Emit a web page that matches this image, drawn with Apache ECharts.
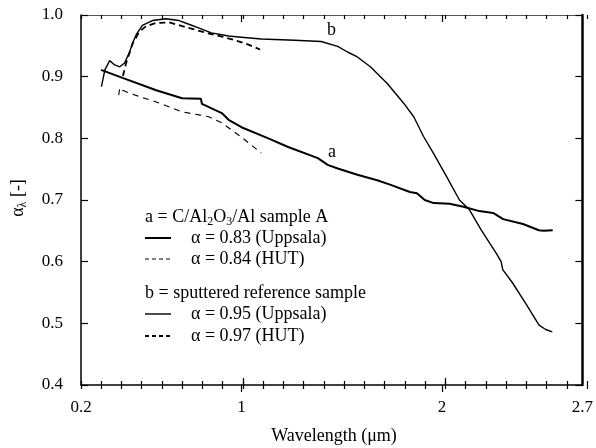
<!DOCTYPE html>
<html>
<head>
<meta charset="utf-8">
<script src="https://cdn.jsdelivr.net/npm/echarts@6/dist/echarts.min.js"></script>
<style>html,body{margin:0;padding:0;background:#fff}#c{width:596px;height:448px}</style>
</head>
<body>
<div id="c"></div>
<script>
// ---- data (wavelength in µm, absorptance) ----
var aUppsala = [[0.30,0.911],[0.407,0.898],[0.575,0.878],[0.704,0.865],[0.798,0.864],[0.803,0.856],[0.902,0.841],[0.936,0.830],[1.0,0.818],[1.134,0.800],[1.233,0.786],[1.381,0.768],[1.430,0.757],[1.480,0.751],[1.578,0.741],[1.677,0.732],[1.741,0.725],[1.840,0.713],[1.875,0.711],[1.914,0.700],[1.959,0.695],[2.038,0.694],[2.107,0.689],[2.186,0.682],[2.255,0.679],[2.305,0.669],[2.404,0.661],[2.483,0.651],[2.507,0.650],[2.552,0.651]];
var aHUT = [[0.388,0.870],[0.393,0.882],[0.408,0.878],[0.442,0.873],[0.575,0.859],[0.704,0.843],[0.788,0.838],[0.837,0.835],[0.902,0.825],[1.0,0.802],[1.099,0.776]];
var bUppsala = [[0.302,0.884],[0.319,0.911],[0.343,0.926],[0.368,0.919],[0.393,0.916],[0.417,0.922],[0.442,0.940],[0.458,0.955],[0.475,0.968],[0.506,0.983],[0.556,0.991],[0.623,0.994],[0.689,0.991],[0.738,0.985],[0.796,0.978],[0.80,0.975],[0.85,0.971],[0.902,0.968],[0.936,0.966],[1.0,0.964],[1.099,0.961],[1.266,0.959],[1.397,0.957],[1.48,0.949],[1.529,0.940],[1.578,0.932],[1.643,0.916],[1.727,0.889],[1.809,0.857],[1.859,0.835],[1.908,0.803],[1.957,0.776],[2.023,0.738],[2.087,0.700],[2.137,0.684],[2.196,0.651],[2.270,0.614],[2.295,0.600],[2.303,0.587],[2.353,0.565],[2.418,0.532],[2.484,0.497],[2.517,0.490],[2.550,0.486]];
var bHUT = [[0.409,0.901],[0.425,0.922],[0.458,0.954],[0.491,0.973],[0.525,0.982],[0.574,0.987],[0.640,0.988],[0.705,0.982],[0.771,0.976],[0.837,0.970],[0.903,0.965],[0.969,0.959],[1.035,0.952],[1.093,0.944]];
var xTickLabels = [0.2, 1, 2, 2.7];
var xMajorTicks = [1, 2];
var xMin = 0.2, xMax = 2.7;
var yMin = 0.4, yMax = 1.0, yStep = 0.1;

var FONT = '"Liberation Serif", "Times New Roman", serif';
var chart = echarts.init(document.getElementById('c'), null, {renderer: 'canvas'});
var G = {left: 81, right: 9, top: 15, bottom: 63};
function grid() { return {left: G.left, right: G.right, top: G.top, bottom: G.bottom, containLabel: false}; }
function hiddenX(gi, pos, ticks) {
  return {type: 'value', gridIndex: gi, position: pos, min: xMin, max: xMax, interval: 0.1,
    axisLine: {show: false}, axisLabel: {show: false}, splitLine: {show: false},
    axisTick: ticks};
}
function hiddenY(gi) {
  return {type: 'value', gridIndex: gi, min: yMin, max: yMax, interval: yStep, show: false};
}
var tickStyle = {color: '#000', width: 1.2};
var option = {
  animation: false,
  backgroundColor: '#fff',
  grid: [grid(), grid(), grid(), grid()],
  xAxis: [
    {type: 'value', gridIndex: 0, position: 'bottom', min: xMin, max: xMax,
     axisLine: {show: true, lineStyle: {color: '#000', width: 1.5}},
     axisTick: {show: true, inside: false, length: 7, customValues: xMajorTicks, lineStyle: tickStyle},
     axisLabel: {show: true, customValues: xTickLabels, margin: 14, fontFamily: FONT, fontSize: 17, color: '#000',
       formatter: function (v) { return String(v); }},
     splitLine: {show: false}},
    {type: 'value', gridIndex: 0, position: 'top', min: xMin, max: xMax,
     axisLine: {show: true, lineStyle: {color: '#555', width: 1}},
     axisTick: {show: true, inside: true, length: 7, customValues: xMajorTicks, lineStyle: tickStyle},
     axisLabel: {show: false}, splitLine: {show: false}},
    hiddenX(1, 'bottom', {show: true, inside: true, length: 7, customValues: xMajorTicks, lineStyle: tickStyle}),
    hiddenX(1, 'top', {show: true, inside: true, length: 4, lineStyle: tickStyle}),
    hiddenX(2, 'bottom', {show: true, inside: false, length: 4, lineStyle: tickStyle}),
    hiddenX(3, 'bottom', {show: true, inside: true, length: 4, lineStyle: tickStyle})
  ],
  yAxis: [
    {type: 'value', gridIndex: 0, position: 'left', min: yMin, max: yMax, interval: yStep,
     axisLine: {show: true, lineStyle: {color: '#000', width: 1.5}},
     axisTick: {show: true, inside: true, length: 7, lineStyle: tickStyle},
     axisLabel: {show: true, margin: 18, fontFamily: FONT, fontSize: 17, color: '#000',
       formatter: function (v) { return v.toFixed(1); }},
     splitLine: {show: false}},
    {type: 'value', gridIndex: 0, position: 'right', min: yMin, max: yMax, interval: yStep,
     axisLine: {show: true, lineStyle: {color: '#000', width: 2.5}},
     axisTick: {show: true, inside: true, length: 7, lineStyle: tickStyle},
     axisLabel: {show: false}, splitLine: {show: false}},
    hiddenY(1), hiddenY(2), hiddenY(3)
  ],
  series: [
    {name: 'a Uppsala', type: 'line', xAxisIndex: 0, yAxisIndex: 0, data: aUppsala, showSymbol: false,
     lineStyle: {color: '#000', width: 2}},
    {name: 'a HUT', type: 'line', xAxisIndex: 0, yAxisIndex: 0, data: aHUT, showSymbol: false,
     lineStyle: {color: '#000', width: 1.1, type: [6, 5]}},
    {name: 'b Uppsala', type: 'line', xAxisIndex: 0, yAxisIndex: 0, data: bUppsala, showSymbol: false,
     lineStyle: {color: '#000', width: 1.4}},
    {name: 'b HUT', type: 'line', xAxisIndex: 0, yAxisIndex: 0, data: bHUT, showSymbol: false,
     lineStyle: {color: '#000', width: 1.8, type: [6, 4]}}
  ],
  graphic: []
};

var rich = {
  n: {fontFamily: FONT, fontSize: 18, lineHeight: 22, color: '#000'},
  s: {fontFamily: FONT, fontSize: 12, lineHeight: 12, verticalAlign: 'bottom', color: '#000'}
};
function txt(x, y, str) {
  return {type: 'text', x: x, y: y, silent: true,
    style: {text: str, fontFamily: FONT, fontSize: 18, fill: '#000', rich: rich, verticalAlign: 'middle', align: 'left'}};
}
function sample(y, w, dash) {
  return {type: 'line', silent: true, shape: {x1: 145, y1: y, x2: 171, y2: y},
    style: {stroke: '#000', lineWidth: w, lineDash: dash || null}};
}
option.graphic = [
  txt(145, 217, '{n|a = C/Al}{s|2}{n|O}{s|3}{n|/Al sample A}'),
  sample(238, 2), txt(191, 238, '{n|α = 0.83 (Uppsala)}'),
  sample(259, 1.1, [4, 3]), txt(191, 259, '{n|α = 0.84 (HUT)}'),
  txt(145, 293, '{n|b = sputtered reference sample}'),
  sample(314, 1.4), txt(191, 314, '{n|α = 0.95 (Uppsala)}'),
  sample(336, 2, [4, 3]), txt(191, 336, '{n|α = 0.97 (HUT)}'),
  txt(328, 152, '{n|a}'),
  txt(327, 30, '{n|b}'),
  {type: 'text', x: 334, y: 436, silent: true,
   style: {text: 'Wavelength (μm)', fontFamily: FONT, fontSize: 18, fill: '#000', align: 'center', verticalAlign: 'middle'}},
  {type: 'text', x: 18, y: 198, rotation: Math.PI / 2, silent: true,
   style: {text: '{n|α}{s|λ}{n| [-]}', rich: rich, align: 'center', verticalAlign: 'middle'}}
];
chart.setOption(option);
</script>
</body>
</html>
